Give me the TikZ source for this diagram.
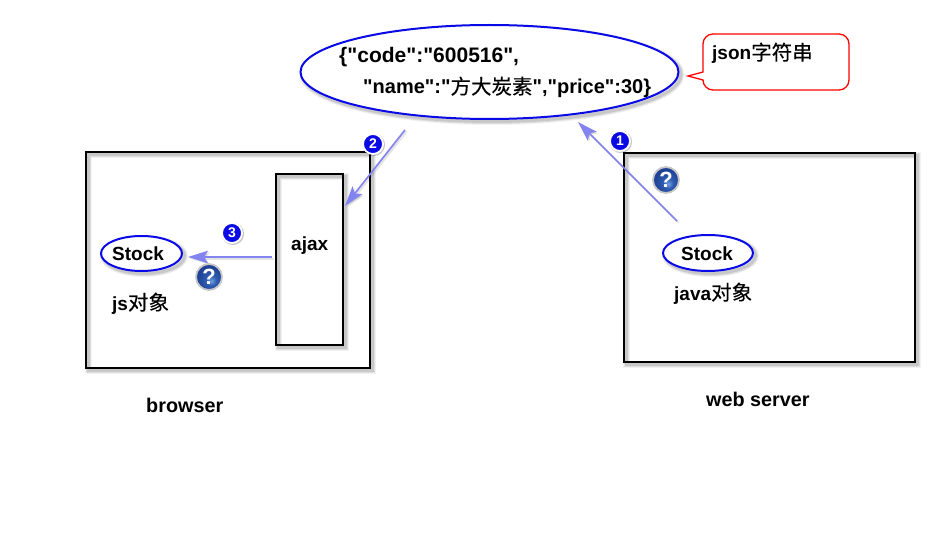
\documentclass[tikz,border=0pt]{standalone}
\usepackage{fontspec}
\newfontfamily\lib{Liberation Sans}
\newfontfamily\cjk{Noto Sans CJK SC}[FakeBold=0.25]
\newcommand\cjt[1]{{\cjk\mdseries\fontsize{20.5}{21}\selectfont #1}}
\usetikzlibrary{shapes.geometric,arrows.meta,calc}
\definecolor{arrowblue}{HTML}{8484F0}
\definecolor{ringblue}{HTML}{0A0AE6}
\definecolor{qdark}{HTML}{1F4296}
\definecolor{qmid}{HTML}{2F5CB0}
\definecolor{qlight}{HTML}{6E9EE0}
\pgfdeclareradialshading{qball}{\pgfpoint{5bp}{-8bp}}{color(0bp)=(qlight); color(10bp)=(qmid); color(24bp)=(qdark); color(50bp)=(qdark)}
\tikzset{
  softshadow/.style={
    preaction={draw=black,opacity=.05,line width=#1+5pt,fill=none,transform canvas={shift={(2.5,2.5)}}},
    preaction={draw=black,opacity=.08,line width=#1+3pt,fill=none,transform canvas={shift={(2.5,2.5)}}},
    preaction={draw=black,opacity=.10,line width=#1+1pt,fill=none,transform canvas={shift={(2.5,2.5)}}}},
  boxshape/.style={draw=black,line width=2.2pt,rectangle,inner sep=0,softshadow=2pt},
  oval/.style={draw=ringblue,line width=2pt,ellipse,inner sep=0,softshadow=2pt,fill=white},
  lbl/.style={inner sep=0,anchor=base west,font=\lib\fontsize{19}{19}\selectfont\bfseries},
  badge/.style={circle,fill=ringblue,draw=white,line width=1.8pt,minimum size=20pt,inner sep=0,
    text=white,font=\lib\fontsize{14}{14}\selectfont\bfseries,
    preaction={draw=black,opacity=.22,line width=2.5pt,transform canvas={shift={(.8,.8)}}}},
  qmark/.style={circle,draw=black!22,line width=1.8pt,minimum size=26pt,inner sep=0,
    shading=qball,text=white,font=\lib\fontsize{22}{22}\selectfont\bfseries},
  flow/.style={draw=arrowblue,line width=1.7pt,-{Stealth[length=20pt,width=12.5pt,inset=4pt]},
    preaction={draw=black,opacity=.10,line width=2pt,transform canvas={shift={(1.5,1.5)}}}},
}
\begin{document}
\begin{tikzpicture}[x=1pt,y=-1pt]
\useasboundingbox (0,0) rectangle (946,559);
\fill[white] (0,0) rectangle (946,559);

% boxes
\node[boxshape,minimum width=284pt,minimum height=216pt] (browser) at (228,260) {};
\node[boxshape,minimum width=67pt,minimum height=171pt] (ajaxbox) at (309.5,259.5) {};
\node[boxshape,minimum width=291pt,minimum height=209pt] (serverbox) at (769.5,257.5) {};

% ovals
\node[oval,minimum width=378pt,minimum height=94pt] (json) at (489.5,72) {};
\node[oval,minimum width=81pt,minimum height=35pt] (jsstock) at (141.5,253.5) {};
\node[oval,minimum width=90pt,minimum height=36pt] (javastock) at (708,253) {};

% callout
\draw[draw=red,line width=1.3pt,fill=white]
  (688,76) -- (703,72) -- (703,44) arc[start angle=180,end angle=270,radius=10] -- (839,34)
  arc[start angle=270,end angle=360,radius=10] -- (849,80)
  arc[start angle=0,end angle=90,radius=10] -- (713,90)
  arc[start angle=90,end angle=180,radius=10] -- (703,80) -- cycle;
\node[lbl] (calloutlabel) at (712,60) {json\cjt{字符串}};

% texts
\node[lbl,font=\lib\fontsize{21}{21}\selectfont\bfseries] (jsonA) at (339,63) {\{"code":"600516",};
\node[lbl,font=\lib\fontsize{20}{21}\selectfont\bfseries] (jsonB) at (363,94) {"name":"\cjt{方大炭素}","price":30\}};
\node[lbl] (ajax) at (291,251) {ajax};
\node[lbl] (stockA) at (112,261) {Stock};
\node[lbl] (stockB) at (681,261) {Stock};
\node[lbl] (jsobj) at (112,310) {js\cjt{对象}};
\node[lbl] (javaobj) at (674,300) {java\cjt{对象}};
\node[lbl,font=\lib\fontsize{19.8}{20}\selectfont\bfseries] (browserlabel) at (146,412) {browser};
\node[lbl,font=\lib\fontsize{19.8}{20}\selectfont\bfseries] (serverlabel) at (706,406) {web server};

% connectors
\coordinate (fromServer) at (677,221);
\coordinate (toJson) at (578,122);
\coordinate (fromJson) at (405,130);
\coordinate (toAjax) at (345,206);
\coordinate (fromAjax) at (272,257);
\coordinate (toStock) at (188,257);
\draw[flow] (fromServer) -- (toJson);
\draw[flow] (fromJson) -- (toAjax);
\draw[flow] (fromAjax) -- (toStock);

% badges
\node[badge] (one) at (620,141) {1};
\node[badge] (two) at (373,144) {2};
\node[badge] (three) at (232,233) {3};
\node[qmark] (q1) at (666,180) {?};
\node[qmark] (q2) at (209,277) {?};
\end{tikzpicture}
\end{document}
